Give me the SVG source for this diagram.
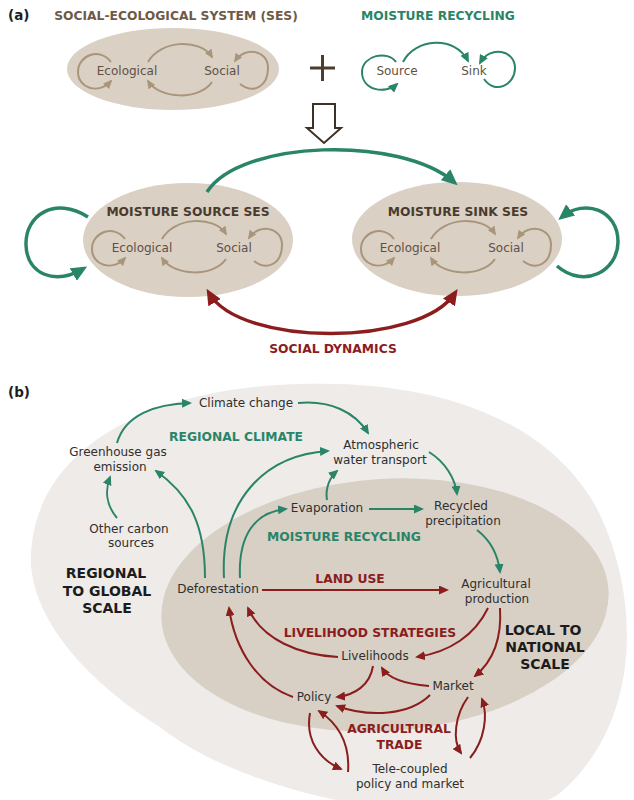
<svg xmlns="http://www.w3.org/2000/svg" width="634" height="800" viewBox="0 0 634 800">
<style>
text{font-family:"DejaVu Sans",Verdana,"Liberation Sans",sans-serif;text-anchor:middle}
.n{font-size:12px;fill:#2f2f2f}
.a{font-size:12px;fill:#5e5146}
.b{font-size:12.3px;font-weight:bold}
.brn{fill:#6e5a45}
.dbrn{fill:#4a3b2d}
.grn{fill:#2a8468}
.red{fill:#8b1d1d}
.blk{font-size:14px;font-weight:bold;fill:#1c1c1c}
.lab{font-size:13.5px;font-weight:bold;fill:#1e1e1e;text-anchor:start}
.tan{fill:none;stroke:#a8957b;stroke-width:2;marker-end:url(#mTan)}
.g{fill:none;stroke:#2a8468;stroke-width:2;marker-end:url(#mG)}
.r{fill:none;stroke:#8b1d1d;stroke-width:2;marker-end:url(#mR)}
.GB{fill:none;stroke:#2a8468;stroke-width:3.5;marker-end:url(#mGB)}
.RB{fill:none;stroke:#8b1d1d;stroke-width:3.5;marker-end:url(#mRB);marker-start:url(#mRB)}
.ses{fill:#dad0c4}
</style>
<defs>
<marker id="mTan" viewBox="0 0 10 9" refX="8" refY="4.5" markerWidth="9" markerHeight="8.1" markerUnits="userSpaceOnUse" orient="auto"><path d="M0,0L10,4.5L0,9z" fill="#a8957b"/></marker>
<marker id="mG" viewBox="0 0 10 9" refX="8" refY="4.5" markerWidth="10" markerHeight="9" markerUnits="userSpaceOnUse" orient="auto"><path d="M0,0L10,4.5L0,9z" fill="#2a8468"/></marker>
<marker id="mR" viewBox="0 0 10 9" refX="8" refY="4.5" markerWidth="10" markerHeight="9" markerUnits="userSpaceOnUse" orient="auto"><path d="M0,0L10,4.5L0,9z" fill="#8b1d1d"/></marker>
<marker id="mGB" viewBox="0 0 10 9" refX="7" refY="4.5" markerWidth="16" markerHeight="14.4" markerUnits="userSpaceOnUse" orient="auto"><path d="M0,0L10,4.5L0,9z" fill="#2a8468"/></marker>
<marker id="mRB" viewBox="0 0 10 9" refX="7" refY="4.5" markerWidth="16" markerHeight="14.4" markerUnits="userSpaceOnUse" orient="auto-start-reverse"><path d="M0,0L10,4.5L0,9z" fill="#8b1d1d"/></marker>
<g id="sesLoops">
<path class="tan" d="M111,62 C100,47 78,55 78,72 C78,88 98,95 111,81"/>
<path class="tan" d="M148,62 C160,40 200,38 212,57"/>
<path class="tan" d="M212,82 C200,100 160,100 148,81"/>
<path class="tan" d="M240,84 C255,95 268,85 268,68 C268,50 245,46 235,61"/>
</g>
</defs>

<!-- Panel (a) -->
<text class="lab" x="8" y="20">(a)</text>
<g id="ses">
<ellipse class="ses" cx="173" cy="69" rx="106" ry="41"/>
<text class="b brn" x="176" y="20">SOCIAL-ECOLOGICAL SYSTEM (SES)</text>
<use href="#sesLoops"/>
<text class="a" x="127" y="75">Ecological</text>
<text class="a" x="222" y="75">Social</text>
</g>
<g id="plus">
<path d="M310,68H335M322.5,55V81" stroke="#4d3d2e" stroke-width="3" fill="none"/>
</g>
<g id="moisture-recycling">
<text class="b grn" x="438" y="20">MOISTURE RECYCLING</text>
<text class="a" x="397" y="75">Source</text>
<text class="a" x="474" y="75">Sink</text>
<path class="g" d="M396,62 C388,50 362,55 362,72 C362,90 385,95 397,84"/>
<path class="g" d="M403,62 C415,38 455,35 468,61"/>
<path class="g" d="M484,79 C495,95 515,85 515,68 C515,50 490,45 480,63"/>
</g>
<g id="down-arrow">
<path d="M313,104H335V128H341L324,143L307,128H313Z" fill="#fff" stroke="#3e3226" stroke-width="2" stroke-linejoin="miter"/>
</g>
<g id="source-ses">
<ellipse class="ses" cx="188" cy="240" rx="105" ry="57"/>
<text class="b dbrn" x="188" y="216">MOISTURE SOURCE SES</text>
<use href="#sesLoops" transform="translate(14,177)"/>
<text class="a" x="142" y="252">Ecological</text>
<text class="a" x="234" y="252">Social</text>
</g>
<g id="sink-ses">
<ellipse class="ses" cx="457" cy="239" rx="105" ry="57"/>
<text class="b dbrn" x="458" y="216">MOISTURE SINK SES</text>
<use href="#sesLoops" transform="translate(283,177)"/>
<text class="a" x="410" y="252">Ecological</text>
<text class="a" x="506" y="252">Social</text>
</g>
<g id="connectors-a">
<path class="GB" d="M207,192 C240,140 400,135 454,182"/>
<path class="GB" d="M88,217 C55,196 25,215 26,245 C27,275 55,285 83,269"/>
<path class="GB" d="M557,266 C585,290 618,270 618,242 C618,210 585,198 562,217"/>
<path class="RB" d="M209,293 C240,347 420,347 455,293"/>
</g>
<text class="b red" x="333" y="353">SOCIAL DYNAMICS</text>

<!-- Panel (b) -->
<text class="lab" x="8" y="397">(b)</text>
<g id="regional-scale">
<path d="M31,565 C28,455 140,388 300,384 C420,380 540,410 595,505 C640,590 645,720 560,793 C500,838 262,808 160,727 C100,690 36,630 31,565Z" fill="#eeebe8"/>
<text class="blk" x="106" y="578">REGIONAL</text>
<text class="blk" x="107" y="596">TO GLOBAL</text>
<text class="blk" x="107" y="613">SCALE</text>
</g>
<g id="local-scale">
<ellipse cx="385" cy="605" rx="224" ry="126" transform="rotate(-4 385 605)" fill="#d8cfc5"/>
<text class="blk" x="543" y="635">LOCAL TO</text>
<text class="blk" x="545" y="652">NATIONAL</text>
<text class="blk" x="545" y="669">SCALE</text>
</g>
<text class="b grn" x="236" y="441">REGIONAL CLIMATE</text>
<text class="b grn" x="344" y="541">MOISTURE RECYCLING</text>
<text class="b red" x="350" y="583">LAND USE</text>
<text class="b red" x="370" y="637">LIVELIHOOD STRATEGIES</text>
<text class="b red" x="399" y="733">AGRICULTURAL</text>
<text class="b red" x="399.5" y="749">TRADE</text>

<g id="climate-change"><text class="n" x="246" y="407">Climate change</text></g>
<g id="ghg"><text class="n" x="118" y="456">Greenhouse gas</text><text class="n" x="120" y="471">emission</text></g>
<g id="other-carbon"><text class="n" x="129" y="533">Other carbon</text><text class="n" x="131" y="547">sources</text></g>
<g id="atmospheric"><text class="n" x="381" y="449">Atmospheric</text><text class="n" x="380" y="464">water transport</text></g>
<g id="evaporation"><text class="n" x="327" y="512">Evaporation</text></g>
<g id="recycled"><text class="n" x="461" y="510">Recycled</text><text class="n" x="463" y="525">precipitation</text></g>
<g id="deforestation"><text class="n" x="218" y="593">Deforestation</text></g>
<g id="agricultural"><text class="n" x="496" y="588">Agricultural</text><text class="n" x="497" y="603">production</text></g>
<g id="livelihoods"><text class="n" x="375" y="660">Livelihoods</text></g>
<g id="market"><text class="n" x="453" y="690">Market</text></g>
<g id="policy"><text class="n" x="314" y="701">Policy</text></g>
<g id="telecoupled"><text class="n" x="410" y="773">Tele-coupled</text><text class="n" x="410" y="788">policy and market</text></g>

<g id="connectors-b">
<path class="g" d="M117,518 C106,505 105,490 110,477"/>
<path class="g" d="M117,443 C125,415 155,404 190,403"/>
<path class="g" d="M298,403 C330,400 355,412 368,433"/>
<path class="g" d="M429,452 C445,462 455,478 457,494"/>
<path class="g" d="M477,530 C490,540 498,555 500,572"/>
<path class="g" d="M369,509 L422,509"/>
<path class="g" d="M327,500 C325,488 330,477 337,471"/>
<path class="g" d="M205,578 C205,525 190,495 156,471"/>
<path class="g" d="M224,578 C220,500 265,455 328,451"/>
<path class="g" d="M240,578 C238,535 255,512 286,509"/>
<path class="r" d="M262,590 L447,590"/>
<path class="r" d="M338,657 C300,655 262,640 248,608"/>
<path class="r" d="M293,697 C258,685 235,650 229,608"/>
<path class="r" d="M488,608 C475,635 450,652 417,657"/>
<path class="r" d="M500,608 C502,640 492,662 475,676"/>
<path class="r" d="M429,686 C405,684 388,678 382,668"/>
<path class="r" d="M373,666 C370,685 355,695 337,697"/>
<path class="r" d="M430,695 C410,715 370,718 337,706"/>
<path class="r" d="M310,713 C305,740 320,760 341,769"/>
<path class="r" d="M348,772 C350,745 340,725 319,711"/>
<path class="r" d="M468,697 C455,715 452,740 461,753"/>
<path class="r" d="M470,758 C485,740 488,715 482,699"/>
</g>
</svg>
